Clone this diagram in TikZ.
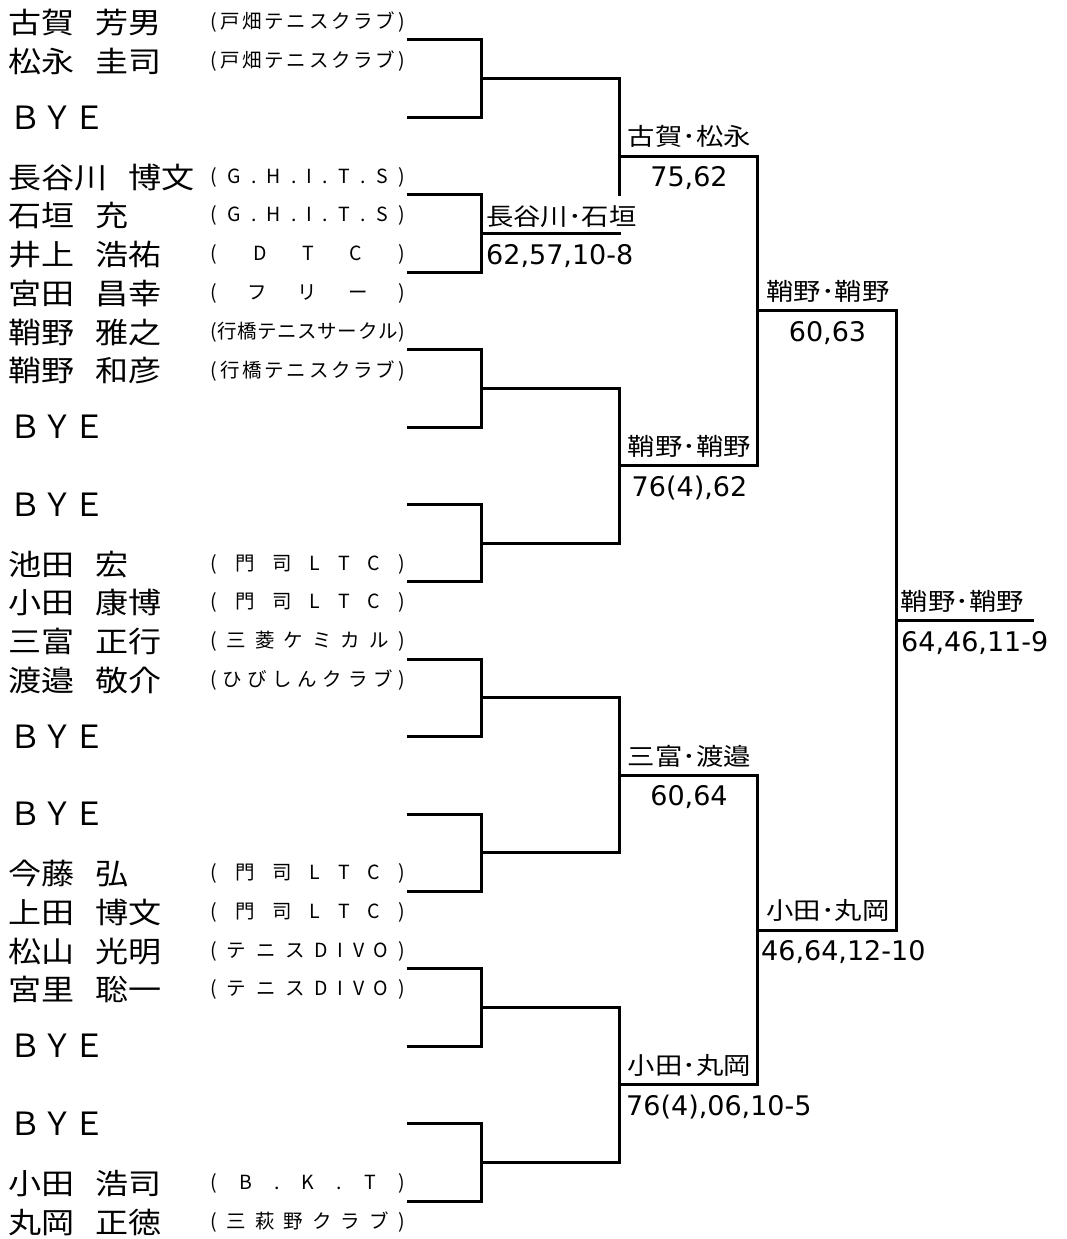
\documentclass[tikz,border=0pt]{standalone}
\usepackage{fontspec}
\usepackage{tikz}
\newfontfamily\jpfont{Noto Sans CJK JP}
\newfontfamily\jpwidefont[FakeStretch=1.14]{Noto Sans CJK JP}
\newfontfamily\scorefont{DejaVu Sans}
\newcommand{\fullname}[2]{#1\hspace{21pt}#2}
\newcommand{\club}[1]{\makebox[194pt][s]{\clubloop#1\relax}}
\def\clubloop#1#2{#1\ifx\relax#2\else\hfill\expandafter\clubloop\expandafter#2\fi}

\begin{document}
\begin{tikzpicture}[x=1pt,y=-1pt]
 \tikzset{player/.style={anchor=west,inner sep=0pt,font=\jpwidefont\fontsize{29}{34}\selectfont},
  bye/.style={anchor=west,inner sep=0pt,font=\jpfont\fontsize{32}{38}\selectfont},
  team/.style={anchor=west,inner sep=0pt,font=\jpfont\fontsize{19.5}{23}\selectfont},
  winner/.style={inner sep=0pt,font=\jpwidefont\fontsize{24}{28}\selectfont},
  score/.style={inner sep=0pt,font=\scorefont\fontsize{27}{32}\selectfont},
  bracket/.style={line width=3pt}}
 \useasboundingbox (0,0) rectangle (1067,1239);

 % entries
 \node[player] (p1) at (8,22.5) {\fullname{古賀}{芳男}};
 \node[team] (t1) at (210.5,22.5) {\club{(戸畑テニスクラブ)}};
 \node[player] (p2) at (8,61) {\fullname{松永}{圭司}};
 \node[team] (t2) at (210.5,61) {\club{(戸畑テニスクラブ)}};
 \node[bye] (b1) at (9.5,117.4) {ＢＹＥ};
 \node[player] (p3) at (8,177.3) {\fullname{長谷川}{博文}};
 \node[team] (t3) at (210.5,177.3) {\club{(G.H.I.T.S)}};
 \node[player] (p4) at (8,215.8) {\fullname{石垣}{充}};
 \node[team] (t4) at (210.5,215.8) {\club{(G.H.I.T.S)}};
 \node[player] (p5) at (8,254.7) {\fullname{井上}{浩祐}};
 \node[team] (t5) at (210.5,254.7) {\club{(DTC)}};
 \node[player] (p6) at (8,293.2) {\fullname{宮田}{昌幸}};
 \node[team] (t6) at (210.5,293.2) {\club{(フリー)}};
 \node[player] (p7) at (8,332.1) {\fullname{鞘野}{雅之}};
 \node[team] (t7) at (210.5,332.1) {\club{(行橋テニスサークル)}};
 \node[player] (p8) at (8,370.6) {\fullname{鞘野}{和彦}};
 \node[team] (t8) at (210.5,370.6) {\club{(行橋テニスクラブ)}};
 \node[bye] (b2) at (9.5,427) {ＢＹＥ};
 \node[bye] (b3) at (9.5,504.4) {ＢＹＥ};
 \node[player] (p9) at (8,564.3) {\fullname{池田}{宏}};
 \node[team] (t9) at (210.5,564.3) {\club{(門司LTC)}};
 \node[player] (p10) at (8,602.8) {\fullname{小田}{康博}};
 \node[team] (t10) at (210.5,602.8) {\club{(門司LTC)}};
 \node[player] (p11) at (8,641.7) {\fullname{三富}{正行}};
 \node[team] (t11) at (210.5,641.7) {\club{(三菱ケミカル)}};
 \node[player] (p12) at (8,680.2) {\fullname{渡邉}{敬介}};
 \node[team] (t12) at (210.5,680.2) {\club{(ひびしんクラブ)}};
 \node[bye] (b4) at (9.5,736.6) {ＢＹＥ};
 \node[bye] (b5) at (9.5,814) {ＢＹＥ};
 \node[player] (p13) at (8,873.9) {\fullname{今藤}{弘}};
 \node[team] (t13) at (210.5,873.9) {\club{(門司LTC)}};
 \node[player] (p14) at (8,912.4) {\fullname{上田}{博文}};
 \node[team] (t14) at (210.5,912.4) {\club{(門司LTC)}};
 \node[player] (p15) at (8,951.3) {\fullname{松山}{光明}};
 \node[team] (t15) at (210.5,951.3) {\club{(テニスDIVO)}};
 \node[player] (p16) at (8,989.8) {\fullname{宮里}{聡一}};
 \node[team] (t16) at (210.5,989.8) {\club{(テニスDIVO)}};
 \node[bye] (b6) at (9.5,1046.2) {ＢＹＥ};
 \node[bye] (b7) at (9.5,1123.6) {ＢＹＥ};
 \node[player] (p17) at (8,1183.5) {\fullname{小田}{浩司}};
 \node[team] (t17) at (210.5,1183.5) {\club{(B.K.T)}};
 \node[player] (p18) at (8,1222) {\fullname{丸岡}{正徳}};
 \node[team] (t18) at (210.5,1222) {\club{(三萩野クラブ)}};

 % first round
 \draw[bracket] (407,40) -| (481,117.4) -- (407,117.4);
 \draw[bracket] (407,194.8) -| (481,272.2) -- (407,272.2);
 \draw[bracket] (407,349.6) -| (481,427) -- (407,427);
 \draw[bracket] (407,504.4) -| (481,581.8) -- (407,581.8);
 \draw[bracket] (407,659.2) -| (481,736.6) -- (407,736.6);
 \draw[bracket] (407,814) -| (481,891.4) -- (407,891.4);
 \draw[bracket] (407,968.8) -| (481,1046.2) -- (407,1046.2);
 \draw[bracket] (407,1123.6) -| (481,1201) -- (407,1201);
 % second round
 \draw[bracket] (481,78.7) -| (619,233.5) -- (481,233.5);
 \draw[bracket] (481,388.3) -| (619,543.1) -- (481,543.1);
 \draw[bracket] (481,697.9) -| (619,852.7) -- (481,852.7);
 \draw[bracket] (481,1007.5) -| (619,1162.3) -- (481,1162.3);
 % quarter and semi finals
 \draw[bracket] (619,156.1) -| (757,465.7) -- (619,465.7);
 \draw[bracket] (619,775.3) -| (757,1084.9) -- (619,1084.9);
 \draw[bracket] (757,310.9) -| (896,930.1) -- (757,930.1);
 \draw[bracket] (896,620.5) -- (1034,620.5);

 % winners and scores
 \node[winner,anchor=south west,fill=white,text height=29.5pt,text depth=6.5pt] (w1) at (486,231.8) {長谷川･石垣};
 \node[score,anchor=base west] (s1) at (486,264) {62,57,10-8};
 \node[winner,anchor=south] (w2) at (689.5,148) {古賀･松永};
 \node[score,anchor=base] (s2) at (689,186.6) {75,62};
 \node[winner,anchor=south] (w3) at (689.5,457.7) {鞘野･鞘野};
 \node[score,anchor=base] (s3) at (689.5,496.2) {76(4),62};
 \node[winner,anchor=south] (w4) at (689.5,767.3) {三富･渡邉};
 \node[score,anchor=base] (s4) at (689,805.8) {60,64};
 \node[winner,anchor=south] (w5) at (689.5,1076.9) {小田･丸岡};
 \node[score,anchor=base west] (s5) at (626,1115.4) {76(4),06,10-5};
 \node[winner,anchor=south] (w6) at (828,302.9) {鞘野･鞘野};
 \node[score,anchor=base] (s6) at (827.5,341.4) {60,63};
 \node[winner,anchor=south] (w7) at (828,922.1) {小田･丸岡};
 \node[score,anchor=base west] (s7) at (761,960.6) {46,64,12-10};
 \node[winner,anchor=south west] (w8) at (900.5,612.5) {鞘野･鞘野};
 \node[score,anchor=base west] (s8) at (901,651) {64,46,11-9};
\end{tikzpicture}
\end{document}
